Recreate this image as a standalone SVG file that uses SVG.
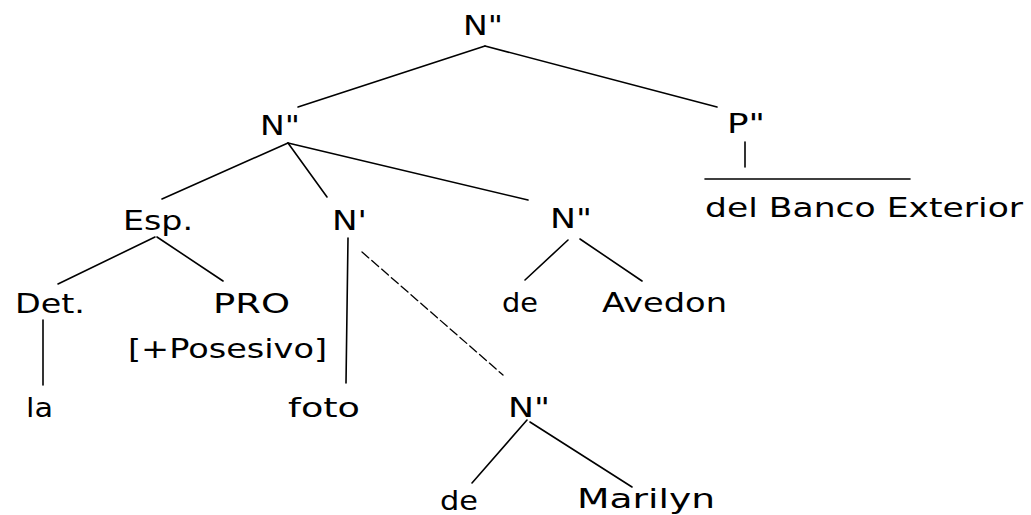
<svg xmlns="http://www.w3.org/2000/svg" width="1031" height="515" viewBox="0 0 1031 515">
<style>
text{font-family:"DejaVu Sans","Liberation Sans",sans-serif;font-size:27px;fill:#000}
.e{stroke:#000;stroke-width:1.6;fill:none;stroke-linecap:round}
.d{stroke-dasharray:9 4;stroke-width:1.3}
</style>
<rect width="1031" height="515" fill="#fff"/>
<g id="connectors">
<line class="e" x1="485" y1="46" x2="298" y2="107"/>
<line class="e" x1="485" y1="46" x2="717" y2="107"/>
<line class="e" x1="745" y1="142" x2="745" y2="167"/>
<line class="e" x1="705" y1="179" x2="910" y2="179"/>
<line class="e" x1="288" y1="143" x2="162" y2="199"/>
<line class="e" x1="288" y1="143" x2="327" y2="197"/>
<line class="e" x1="288" y1="143" x2="528" y2="200"/>
<line class="e" x1="155" y1="237" x2="58" y2="284"/>
<line class="e" x1="157" y1="237" x2="223" y2="281"/>
<line class="e" x1="43" y1="320" x2="43" y2="385"/>
<line class="e" x1="348" y1="238" x2="346" y2="383"/>
<line class="e d" x1="362" y1="252" x2="503" y2="375"/>
<line class="e" x1="568" y1="240" x2="525" y2="280"/>
<line class="e" x1="580" y1="239" x2="642" y2="281"/>
<line class="e" x1="527" y1="420" x2="472" y2="483"/>
<line class="e" x1="530" y1="422" x2="632" y2="487"/>
</g>
<g id="n-root"><text x="463" y="35" textLength="40" lengthAdjust="spacingAndGlyphs">N"</text></g>
<g id="n-np"><text x="260" y="135" textLength="40" lengthAdjust="spacingAndGlyphs">N"</text></g>
<g id="n-pp"><text x="727" y="133" textLength="38" lengthAdjust="spacingAndGlyphs">P"</text></g>
<g id="n-banco"><text x="705" y="217" textLength="318" lengthAdjust="spacingAndGlyphs">del Banco Exterior</text></g>
<g id="n-esp"><text x="123" y="230" textLength="70" lengthAdjust="spacingAndGlyphs">Esp.</text></g>
<g id="n-nbar"><text x="332" y="230" textLength="35" lengthAdjust="spacingAndGlyphs">N'</text></g>
<g id="n-np2"><text x="550" y="228" textLength="42" lengthAdjust="spacingAndGlyphs">N"</text></g>
<g id="n-det"><text x="15" y="313" textLength="70" lengthAdjust="spacingAndGlyphs">Det.</text></g>
<g id="n-pro"><text x="213" y="313" textLength="77" lengthAdjust="spacingAndGlyphs">PRO</text>
<text x="128" y="358" textLength="199" lengthAdjust="spacingAndGlyphs">[+Posesivo]</text></g>
<g id="n-de1"><text x="502" y="312" textLength="36" lengthAdjust="spacingAndGlyphs">de</text></g>
<g id="n-avedon"><text x="602" y="312" textLength="125" lengthAdjust="spacingAndGlyphs">Avedon</text></g>
<g id="n-la"><text x="26" y="417" textLength="27" lengthAdjust="spacingAndGlyphs">la</text></g>
<g id="n-foto"><text x="288" y="417" textLength="72" lengthAdjust="spacingAndGlyphs">foto</text></g>
<g id="n-np3"><text x="508" y="417" textLength="42" lengthAdjust="spacingAndGlyphs">N"</text></g>
<g id="n-de2"><text x="440" y="510" textLength="38" lengthAdjust="spacingAndGlyphs">de</text></g>
<g id="n-marilyn"><text x="577" y="508" textLength="138" lengthAdjust="spacingAndGlyphs">Marilyn</text></g>
</svg>
